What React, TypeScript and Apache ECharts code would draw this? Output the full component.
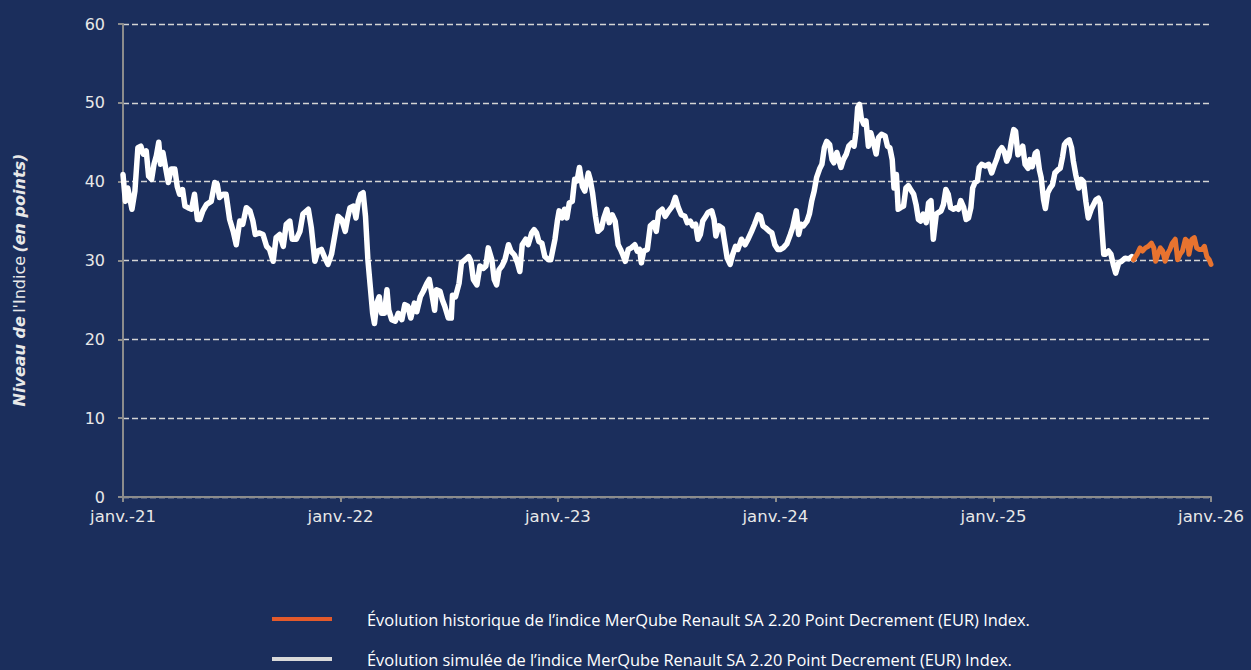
import React, { useEffect, useRef } from "react";
import * as echarts from "echarts";

// Days since 2021-01-01 and index level (simulated, white)
const simDays = [
  0, 4, 8, 15, 20, 25, 30, 34, 39, 43, 48, 52, 56, 60, 63, 67, 71, 76, 81, 87, 91, 95, 100, 104, 109, 115,
  120, 125, 129, 134, 140, 148, 154, 158, 162, 168, 173, 179, 185, 190, 196, 201, 207, 213, 218, 222, 229,
  235, 241, 246, 252, 257, 263, 269, 274, 280, 284, 291, 297, 302, 311, 316, 322, 327, 333, 339, 344, 350,
  361, 367, 373, 377, 381, 387, 391, 395, 399, 403, 407, 411, 415, 419, 422, 426, 430, 434, 439, 443, 446,
  451, 457, 462, 468, 473, 478, 483, 489, 493, 499, 504, 510, 514, 518, 523, 526, 532, 536, 540, 546, 551,
  553, 558, 564, 568, 574, 580, 584, 588, 594, 599, 605, 609, 613, 619, 623, 627, 631, 636, 641, 647, 651,
  657, 662, 666, 670, 676, 680, 686, 690, 694, 698, 703, 708, 714, 718,
  725, 729, 732, 737, 741, 745, 749, 754, 758, 762, 766, 771, 775, 781, 784, 788, 793, 797, 803, 807, 812,
  816, 821, 826, 831, 835, 839, 843, 848, 853, 859, 863, 867, 870, 874, 880, 885, 891, 895, 899, 905, 910,
  916, 922, 927, 932, 937, 943, 947, 952, 956, 961, 965, 969, 973, 978, 982, 988, 992, 995, 1000, 1006,
  1010, 1014, 1019, 1023, 1028, 1032, 1038, 1044, 1049, 1055, 1060, 1066, 1070, 1074, 1079, 1085, 1089,
  1094, 1099,
  1103, 1108, 1114, 1120, 1124, 1130, 1134, 1138, 1142, 1148, 1152, 1156, 1160, 1164, 1169, 1173, 1177,
  1181, 1186, 1190, 1193, 1198, 1202, 1205, 1209, 1214, 1218, 1223, 1227, 1230, 1233, 1236, 1239, 1243,
  1247, 1251, 1255, 1259, 1264, 1268, 1273, 1279, 1283, 1287, 1291, 1294, 1298, 1301, 1305, 1310, 1314,
  1318, 1322, 1327, 1331, 1335, 1339, 1343, 1348, 1352, 1356, 1360, 1365, 1369, 1373, 1377, 1381, 1385,
  1389, 1394, 1398, 1402, 1406, 1411, 1415, 1419, 1423, 1426, 1430, 1434, 1437, 1441, 1447, 1453, 1458,
  1462,
  1467, 1470, 1475, 1479, 1483, 1487, 1491, 1495, 1498, 1502, 1506, 1510, 1514, 1519, 1522, 1526, 1531,
  1534, 1538, 1541, 1545, 1548, 1552, 1556, 1560, 1564, 1569, 1573, 1577, 1580, 1584, 1588, 1592, 1595,
  1599, 1604, 1608, 1612, 1616, 1620, 1625, 1629, 1633, 1637, 1640, 1643, 1646, 1649, 1654, 1658, 1662,
  1666, 1671, 1676, 1682, 1688, 1693, 1696,
];
const simValues = [
  40.9, 37.5, 39.2, 36.5, 38.8, 44.3, 44.5, 43.5, 43.9, 40.7, 40.3, 42.2, 43.3, 45.0, 42.2, 43.7, 42.0,
  39.9, 41.6, 41.6, 39.4, 38.4, 39.0, 36.9, 36.7, 36.5, 38.4, 35.2, 35.2, 36.3, 37.1, 37.5, 39.9, 39.7,
  38.0, 38.4, 38.4, 35.2, 33.7, 32.0, 35.0, 34.6, 36.7, 36.3, 35.0, 33.3, 33.5, 33.3, 31.8, 31.4, 29.9,
  32.9, 33.3, 31.8, 34.6, 35.0, 32.7, 32.7, 33.7, 35.9, 36.5, 34.2, 29.9, 31.2, 31.4, 30.3, 29.5, 30.8,
  35.6, 35.2, 33.7, 35.4, 36.7, 36.9, 35.4, 37.5, 38.4, 38.6, 35.6, 30.1, 26.7, 23.3, 22.0, 24.6, 25.4,
  23.3, 23.3, 26.3, 23.7, 22.5, 22.3, 23.3, 22.5, 24.4, 24.2, 22.7, 24.6, 23.5, 25.4, 26.1, 27.1, 27.6,
  25.9, 23.7, 26.3, 26.1, 25.0, 24.2, 22.7, 22.7, 25.6, 25.4, 27.1, 29.7, 30.1, 30.5, 29.9, 27.6, 26.9,
  29.3, 29.0, 29.3, 31.6, 30.1, 27.6, 26.9, 28.8, 29.3, 30.1, 32.0, 31.2, 30.7, 29.7, 28.6, 32.0, 32.7,
  32.0, 33.5, 33.9, 33.5, 32.4, 32.2, 30.5, 30.1, 30.1,
  32.7, 35.0, 36.3, 35.4, 36.5, 35.4, 37.3, 37.5, 40.3, 40.1, 41.8, 39.4, 38.8, 41.1, 40.3, 38.6, 35.6,
  33.7, 34.1, 35.4, 36.5, 34.8, 35.8, 35.0, 32.0, 31.4, 30.7, 29.9, 31.4, 31.6, 32.0, 31.2, 31.4, 29.7,
  31.2, 31.4, 34.4, 34.8, 33.7, 36.1, 36.5, 35.6, 36.3, 36.9, 38.0, 36.7, 35.8, 35.6, 34.8, 35.0, 34.4,
  34.6, 32.7, 33.3, 35.0, 35.6, 36.1, 36.3, 35.2, 33.1, 34.4, 34.1, 32.2, 30.3, 29.5, 30.7, 31.8, 31.4,
  32.7, 32.0, 32.7, 33.7, 34.6, 35.8, 35.6, 34.4, 34.1, 33.7, 33.5, 32.0, 31.4,
  31.4, 31.6, 32.1, 33.3, 34.2, 36.3, 33.3, 34.6, 34.4, 35.0, 35.9, 37.6, 38.8, 40.5, 41.6, 42.2, 44.3,
  45.1, 44.7, 42.8, 42.4, 43.7, 42.6, 41.8, 42.8, 43.5, 44.5, 44.9, 44.5, 46.2, 49.4, 49.8, 48.1, 47.3,
  47.7, 44.5, 46.2, 45.1, 43.5, 45.6, 46.0, 45.8, 44.5, 44.3, 42.8, 39.2, 40.9, 36.5, 36.7, 36.9, 39.2,
  39.5, 39.0, 38.4, 37.1, 35.2, 35.0, 35.9, 34.8, 37.3, 37.6, 32.7, 35.9, 36.1, 36.3, 37.1, 39.0, 38.4,
  36.7, 36.5, 36.7, 36.5, 37.6, 36.7, 35.2, 35.4, 36.7, 39.2, 39.9, 40.1, 41.8, 42.2, 42.0, 42.2, 41.1,
  42.0,
  43.0, 43.8, 44.3, 43.8, 42.6, 43.2, 45.1, 46.6, 46.4, 43.4, 43.8, 44.5, 42.2, 41.7, 42.8, 41.9, 43.6,
  43.8, 41.5, 40.5, 37.7, 36.6, 38.6, 39.2, 39.6, 41.1, 41.5, 41.7, 43.2, 44.7, 45.1, 45.3, 44.3, 42.6,
  40.9, 39.2, 40.3, 40.0, 37.5, 35.4, 36.5, 37.1, 37.7, 37.9, 37.3, 33.9, 30.8, 30.8, 31.2, 30.8, 29.5,
  28.4, 29.7, 29.9, 30.3, 30.2, 30.5, 30.1,
];

// Days since 2021-01-01 and index level (historical, orange)
const histDays = [
  1696, 1702, 1707, 1711, 1716, 1721, 1726, 1730, 1733, 1737, 1741, 1745, 1749, 1754, 1757, 1761, 1766,
  1770, 1774, 1778, 1783, 1787, 1789, 1794, 1798, 1802, 1806, 1811, 1815, 1819, 1823, 1826,
];
const histValues = [
  30.1, 30.8, 31.6, 31.2, 31.6, 31.8, 32.2, 31.6, 29.9, 30.8, 31.6, 31.2, 29.9, 31.0, 31.4, 32.2, 32.7,
  30.1, 30.8, 31.2, 32.7, 32.4, 30.8, 32.7, 32.9, 31.6, 31.4, 31.4, 31.8, 30.5, 30.1, 29.5,
];

// Tick positions (days since 2021-01-01 for Jan 1st of each year) and labels
const yearTickDays = [0, 365, 730, 1095, 1461, 1826];
const yearTickLabels = ["janv.-21", "janv.-22", "janv.-23", "janv.-24", "janv.-25", "janv.-26"];
const legendNames = [
  "Évolution historique de l’indice MerQube Renault SA 2.20 Point Decrement (EUR) Index.",
  "Évolution simulée de l’indice MerQube Renault SA 2.20 Point Decrement (EUR) Index.",
];

const toSeries = (days: number[], vals: number[]) => days.map((d, i) => [d, vals[i]]);

export default function App() {
  const ref = useRef<HTMLDivElement>(null);
  useEffect(() => {
    if (!ref.current) return;
    const chart = echarts.init(ref.current, null, { renderer: "svg" });
    const axisFont = "'DejaVu Sans', sans-serif";
    const legendText = {
      color: "#ffffff",
      fontSize: 16.4,
      fontFamily: "'Open Sans', sans-serif",
      padding: [0, 0, 0, 30],
    };
    const legendBase = {
      orient: "horizontal",
      left: 272,
      padding: 0,
      itemWidth: 60,
      itemHeight: 4,
      icon: "rect",
      textStyle: legendText,
    };
    chart.setOption({
      animation: false,
      backgroundColor: "#1b2e5c",
      grid: { left: 123, right: 40, top: 24, bottom: 173 },
      xAxis: {
        type: "value",
        min: 0,
        max: 1826,
        axisLine: { show: true, onZero: false, lineStyle: { color: "#8c8c8c", width: 2 } },
        axisTick: { show: true, customValues: yearTickDays, length: 5, lineStyle: { color: "#8c8c8c", width: 2 } },
        axisLabel: {
          customValues: yearTickDays,
          formatter: (v: number) => {
            const i = yearTickDays.indexOf(Math.round(v));
            return i >= 0 ? yearTickLabels[i] : "";
          },
          color: "#e8e8e8",
          fontSize: 16.5,
          fontFamily: axisFont,
          margin: 11,
        },
        splitLine: { show: false },
      },
      yAxis: {
        type: "value",
        min: 0,
        max: 60,
        interval: 10,
        axisLine: { show: true, lineStyle: { color: "#8c8c8c", width: 2 } },
        axisTick: { show: true, length: 5, lineStyle: { color: "#8c8c8c", width: 2 } },
        axisLabel: { color: "#e8e8e8", fontSize: 16, fontFamily: axisFont, margin: 18 },
        splitLine: { show: true, lineStyle: { color: "#d4d4d4", type: [6, 3], width: 1.3 } },
      },
      legend: [
        {
          ...legendBase,
          top: 611,
          data: [{ name: legendNames[0], itemStyle: { color: "#e35a2b" } }],
        },
        {
          ...legendBase,
          top: 651,
          data: [{ name: legendNames[1], itemStyle: { color: "#d9d9d9" } }],
        },
      ],
      graphic: [
        {
          type: "text",
          x: 19,
          y: 280,
          rotation: Math.PI / 2,
          style: {
            text: "{b|Niveau de} {r|l'Indice} {b|(en points)}",
            align: "center",
            verticalAlign: "middle",
            rich: {
              b: { fontStyle: "italic", fontWeight: "bold", fontSize: 16, fill: "#e8e8e8", fontFamily: axisFont },
              r: { fontSize: 16, fill: "#e8e8e8", fontFamily: axisFont },
            },
          },
        },
      ],
      series: [
        {
          name: legendNames[1],
          type: "line",
          data: toSeries(simDays, simValues),
          showSymbol: false,
          symbol: "none",
          lineStyle: { color: "#ffffff", width: 5.5, join: "round", cap: "round" },
          itemStyle: { color: "#ffffff" },
          z: 2,
        },
        {
          name: legendNames[0],
          type: "line",
          data: toSeries(histDays, histValues),
          showSymbol: false,
          symbol: "none",
          lineStyle: { color: "#e8732f", width: 5, join: "round", cap: "round" },
          itemStyle: { color: "#e8732f" },
          z: 3,
        },
      ],
    });
    return () => chart.dispose();
  }, []);
  return <div ref={ref} style={{ position: "fixed", left: 0, top: 0, width: 1251, height: 670 }} />;
}
